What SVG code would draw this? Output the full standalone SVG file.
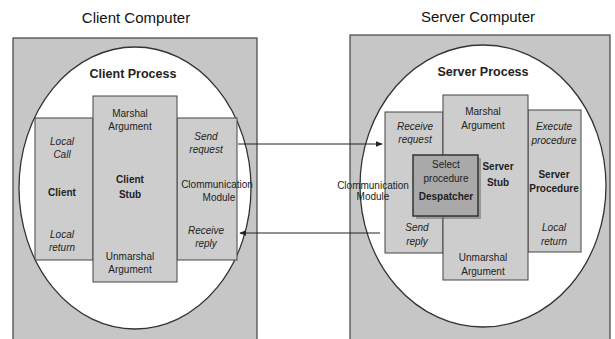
<svg xmlns="http://www.w3.org/2000/svg" width="615" height="339" viewBox="0 0 615 339">
<defs>
<style>
text{font-family:"Liberation Sans",Arial,sans-serif;font-size:10px;fill:#222;text-anchor:middle}
.title{font-size:15px;fill:#111}
.proc{font-size:12.5px;font-weight:bold}
.b{font-weight:bold}
.i{font-style:italic}
.comp{fill:#c6c6c6;stroke:#444;stroke-width:1.2}
.ell{fill:#fff;stroke:#333;stroke-width:1.3}
.box{fill:#cdcdcd;stroke:#444;stroke-width:1}
.desp{fill:#a9a9a9;stroke:#333;stroke-width:1.5}
.conn{stroke:#222;stroke-width:1;fill:none}
</style>
<marker id="ah" viewBox="0 0 10 10" refX="9" refY="5" markerWidth="7" markerHeight="7" orient="auto-start-reverse">
<path d="M0,1 L10,5 L0,9 z" fill="#222"/>
</marker>
</defs>
<rect width="615" height="339" fill="#fff"/>

<g id="client-computer">
<text class="title" x="136" y="23">Client Computer</text>
<rect class="comp" x="13" y="38" width="244" height="304"/>
</g>
<g id="client-process">
<ellipse class="ell" cx="135" cy="188" rx="116" ry="141"/>
<text class="proc" x="133" y="78">Client Process</text>
</g>
<g id="client">
<rect class="box" x="35" y="118" width="58" height="142"/>
<text class="i" x="62" y="145">Local</text>
<text class="i" x="62" y="158">Call</text>
<text class="b" x="62" y="196">Client</text>
<text class="i" x="62" y="238">Local</text>
<text class="i" x="62" y="251">return</text>
</g>
<g id="client-comm">
<rect class="box" x="177" y="118" width="60" height="142"/>
<text class="i" x="206" y="140">Send</text>
<text class="i" x="206" y="153">request</text>
<text x="217" y="188">Clommunication</text>
<text x="219" y="201">Module</text>
<text class="i" x="206" y="234">Receive</text>
<text class="i" x="206" y="247">reply</text>
</g>
<g id="client-stub">
<rect class="box" x="93" y="96" width="84" height="186"/>
<text x="130" y="117">Marshal</text>
<text x="130" y="130">Argument</text>
<text class="b" x="130" y="183">Client</text>
<text class="b" x="130" y="198">Stub</text>
<text x="130" y="260">Unmarshal</text>
<text x="130" y="273">Argument</text>
</g>

<g id="server-computer">
<text class="title" x="478" y="22">Server Computer</text>
<rect class="comp" x="350" y="35" width="260" height="307"/>
</g>
<g id="server-process">
<ellipse class="ell" cx="483" cy="186" rx="123" ry="141"/>
<text class="proc" x="483" y="76">Server Process</text>
</g>
<g id="server-comm">
<rect class="box" x="385" y="112" width="58" height="141"/>
<text class="i" x="415" y="130">Receive</text>
<text class="i" x="415" y="143">request</text>
<text class="i" x="417" y="231">Send</text>
<text class="i" x="417" y="245">reply</text>
</g>
<g id="server-procedure">
<rect class="box" x="528" y="110" width="53" height="142"/>
<text class="i" x="554" y="130">Execute</text>
<text class="i" x="554" y="144">procedure</text>
<text class="b" x="554" y="178">Server</text>
<text class="b" x="554" y="192">Procedure</text>
<text class="i" x="554" y="231">Local</text>
<text class="i" x="554" y="245">return</text>
</g>
<g id="server-stub">
<rect class="box" x="443" y="95" width="85" height="185"/>
<text x="483" y="115">Marshal</text>
<text x="483" y="129">Argument</text>
<text class="b" x="498" y="170">Server</text>
<text class="b" x="498" y="186">Stub</text>
<text x="483" y="261">Unmarshal</text>
<text x="483" y="275">Argument</text>
</g>
<g id="despatcher">
<rect x="416" y="158" width="65" height="61" fill="#777" opacity="0.6"/>
<rect class="desp" x="413" y="155" width="65" height="61"/>
<text x="446" y="168">Select</text>
<text x="446" y="182">procedure</text>
<text class="b" x="446" y="200">Despatcher</text>
</g>
<g id="server-comm-label">
<text x="373" y="189">Clommunication</text>
<text x="373" y="200">Module</text>
</g>

<g id="connectors">
<line class="conn" x1="238" y1="144" x2="382" y2="144" marker-end="url(#ah)"/>
<line class="conn" x1="380" y1="233" x2="240" y2="233" marker-end="url(#ah)"/>
</g>
</svg>
